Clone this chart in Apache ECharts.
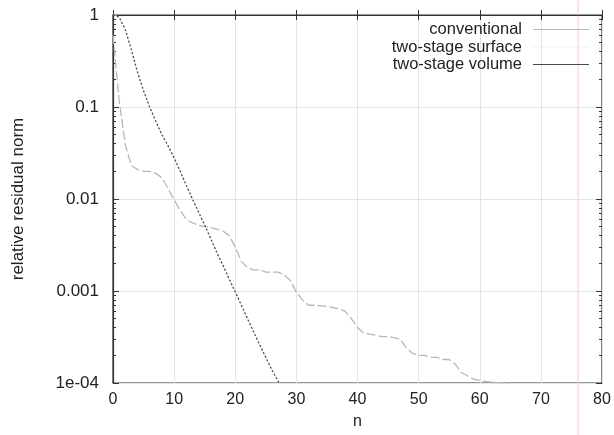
<!DOCTYPE html>
<html>
<head>
<meta charset="utf-8">
<script src="https://cdn.jsdelivr.net/npm/echarts@6/dist/echarts.min.js"></script>
<style>
  html, body { margin: 0; padding: 0; background: #fff; }
  #chart { width: 614px; height: 435px; }
</style>
</head>
<body>
<div id="chart"></div>
<script>
// values (n = iteration)
const conventional = [
  0.6, 0.12, 0.039, 0.023, 0.021, 0.02, 0.02, 0.019, 0.017, 0.013,
  0.0098, 0.0075, 0.006, 0.0055, 0.0052, 0.005, 0.0049, 0.0047, 0.0045, 0.004,
  0.003, 0.0021, 0.0018, 0.0017, 0.0017, 0.0016, 0.0016, 0.0016, 0.0015, 0.0013,
  0.00097, 0.0008, 0.0007, 0.0007, 0.00069, 0.00068, 0.00066, 0.00064, 0.0006, 0.0005,
  0.0004, 0.00035, 0.00034, 0.00033, 0.00032, 0.00032, 0.00031, 0.0003, 0.00024, 0.00021,
  0.0002, 0.0002, 0.00019, 0.00019, 0.00018, 0.00018, 0.00016, 0.00013, 0.00012, 0.00011,
  0.000107, 0.000104, 0.000102, 0.000101, 0.0001, 0.0001
];
const twoStageVolume = [
  1.0, 0.95, 0.7, 0.42, 0.24, 0.15, 0.1, 0.07, 0.05, 0.038,
  0.028, 0.02, 0.014, 0.01, 0.0072, 0.0052, 0.0037, 0.0026, 0.0019, 0.00135,
  0.00098, 0.0007, 0.0005, 0.00036, 0.00026, 0.00019, 0.000138, 0.000105, 0.000076
];
// surface curve lies under the volume curve in the picture
const twoStageSurface = twoStageVolume.slice();

const seriesNames = ['conventional', 'two-stage surface', 'two-stage volume'];
const xTicks = [0, 10, 20, 30, 40, 50, 60, 70, 80];
const yTicks = [1e-4, 0.001, 0.01, 0.1, 1];
const yTickLabels = ['1e-04', '0.001', '0.01', '0.1', '1'];

const FONT = 'Liberation Sans';
const AXISCOLOR = '#333';
const TEXTCOLOR = '#222';

const pairs = arr => arr.map((v, i) => [i, v]);

// minor tick positions (2..9 per decade), in log10 space
const minorLog = [];
for (let d = -4; d < 0; d++) {
  for (let k = 2; k <= 9; k++) minorLog.push(d + Math.log10(k));
}
const majorLog = yTicks.map(v => Math.log10(v));

const tickAxis = (position, values, len) => ({
  type: 'value',
  position,
  min: -4,
  max: 0,
  axisLine: { show: false },
  axisLabel: { show: false },
  splitLine: { show: false },
  axisTick: {
    show: true,
    inside: true,
    length: len,
    customValues: values,
    lineStyle: { color: AXISCOLOR, width: 1 }
  }
});

const myChart = echarts.init(document.getElementById('chart'));

myChart.setOption({
  backgroundColor: '#fff',
  animation: false,
  grid: {
    left: 113,
    right: 12,
    top: 15,
    bottom: 52,
    show: true,
    borderColor: AXISCOLOR,
    borderWidth: 1.2
  },
  legend: {
    orient: 'vertical',
    right: 20,
    top: 16,
    align: 'right',
    icon: 'rect',
    itemWidth: 56,
    itemHeight: 1.2,
    itemGap: 0.5,
    textStyle: { fontFamily: FONT, fontSize: 16.5, color: TEXTCOLOR, padding: [0, 6, 0, 0] },
    data: seriesNames
  },
  graphic: [{
    type: 'line',
    shape: { x1: 578, y1: 0, x2: 578, y2: 435 },
    style: { stroke: '#f6cccf', lineWidth: 1 },
    silent: true
  }],
  xAxis: [{
    type: 'value',
    min: 0,
    max: 80,
    interval: 10,
    name: 'n',
    nameLocation: 'middle',
    nameGap: 31,
    nameTextStyle: { fontFamily: FONT, fontSize: 16, color: TEXTCOLOR },
    axisLine: { show: true, lineStyle: { color: AXISCOLOR, width: 1.2 } },
    axisTick: { show: true, inside: true, length: 5, lineStyle: { color: AXISCOLOR } },
    axisLabel: {
      margin: 9,
      fontFamily: FONT,
      fontSize: 16,
      color: TEXTCOLOR,
      customValues: xTicks
    },
    splitLine: { show: true, lineStyle: { color: '#e4e4e4', width: 1 } }
  }, {
    type: 'value',
    position: 'top',
    min: 0,
    max: 80,
    interval: 10,
    axisLine: { show: false },
    axisTick: { show: true, inside: true, length: 5, lineStyle: { color: AXISCOLOR } },
    axisLabel: { show: false },
    splitLine: { show: false }
  }],
  yAxis: [{
    type: 'log',
    logBase: 10,
    min: 1e-4,
    max: 1,
    position: 'left',
    name: 'relative residual norm',
    nameLocation: 'middle',
    nameGap: 86,
    nameTextStyle: { fontFamily: FONT, fontSize: 17, color: TEXTCOLOR },
    axisLine: { show: true, lineStyle: { color: AXISCOLOR, width: 1.2 } },
    axisTick: { show: true, inside: true, length: 6, lineStyle: { color: AXISCOLOR } },
    axisLabel: {
      margin: 14,
      fontFamily: FONT,
      fontSize: 17,
      color: TEXTCOLOR,
      formatter: v => {
        const i = yTicks.findIndex(t => Math.abs(Math.log10(t) - Math.log10(v)) < 1e-6);
        return i >= 0 ? yTickLabels[i] : '';
      }
    },
    splitLine: { show: true, lineStyle: { color: '#e4e4e4', width: 1 } }
  },
    tickAxis('left', minorLog, 3),
    tickAxis('right', majorLog, 6),
    tickAxis('right', minorLog, 3)
  ],
  series: [{
    name: 'conventional',
    type: 'line',
    data: pairs(conventional),
    showSymbol: false,
    symbol: 'none',
    clip: true,
    lineStyle: { color: '#b8b8b8', width: 1.3, type: [9, 3] },
    itemStyle: { color: '#b8b8b8' },
    z: 3
  }, {
    name: 'two-stage surface',
    type: 'line',
    data: pairs(twoStageSurface),
    showSymbol: false,
    symbol: 'none',
    clip: true,
    lineStyle: { color: '#f2f2ec', width: 1 },
    itemStyle: { color: '#f2f2ec' },
    z: 2
  }, {
    name: 'two-stage volume',
    type: 'line',
    data: pairs(twoStageVolume),
    showSymbol: false,
    symbol: 'none',
    clip: true,
    lineStyle: { color: '#4a4a4a', width: 1.3, type: [2, 2] },
    itemStyle: { color: '#4a4a4a' },
    z: 4
  }]
});
</script>
</body>
</html>
